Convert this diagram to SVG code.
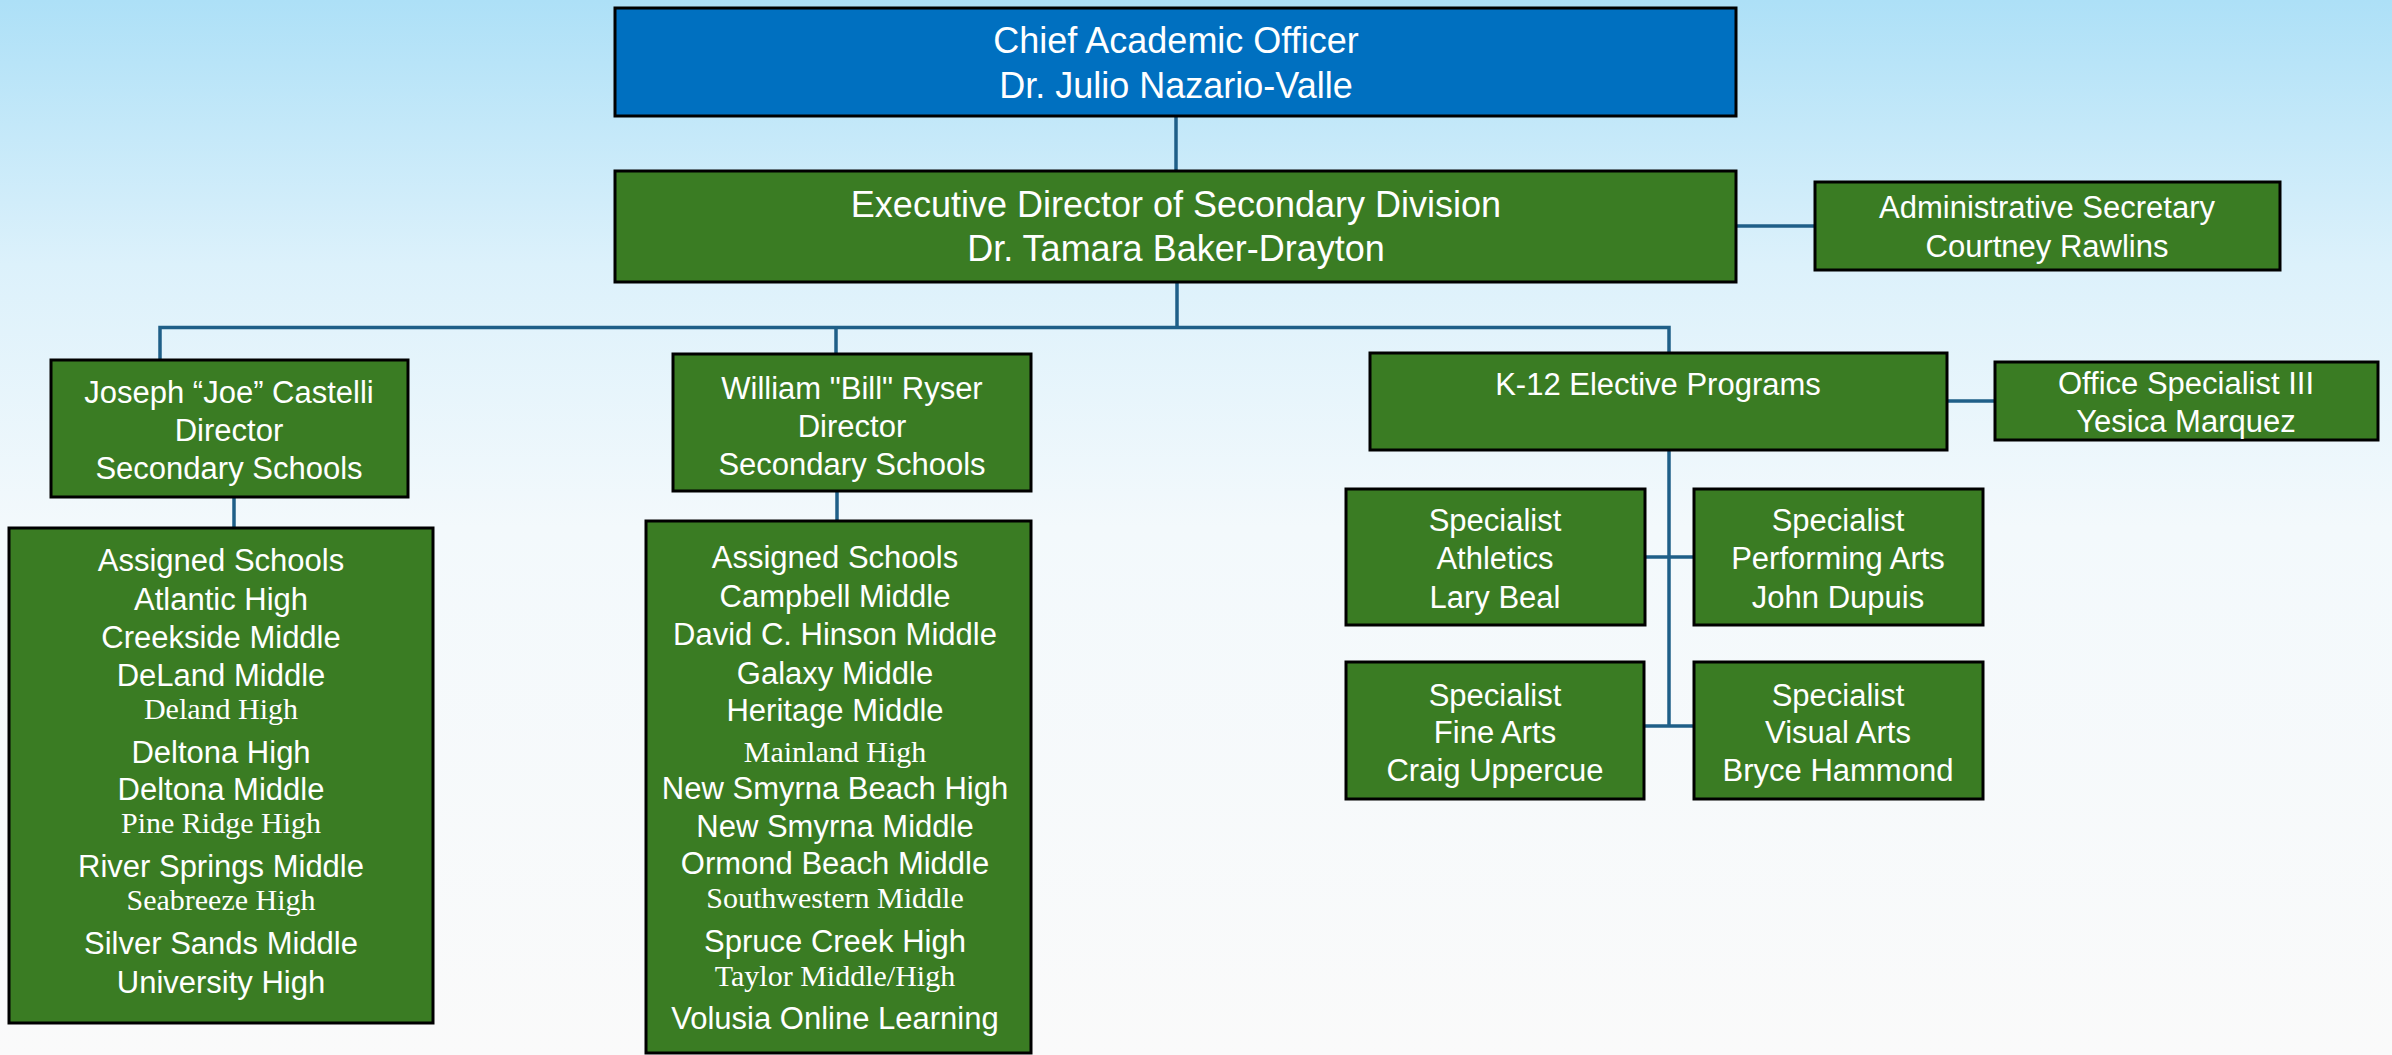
<svg xmlns="http://www.w3.org/2000/svg" width="2392" height="1055" viewBox="0 0 2392 1055">
<defs>
<linearGradient id="bg" x1="0" y1="0" x2="0" y2="1">
<stop offset="0" stop-color="#ade0f7"/>
<stop offset="0.25" stop-color="#dcf1fb"/>
<stop offset="0.5" stop-color="#f3f9fc"/>
<stop offset="1" stop-color="#fafafa"/>
</linearGradient>
<style>
.g{fill:#3a7c23;stroke:#000;stroke-width:3}
.b{fill:#0070c0;stroke:#000;stroke-width:3}
.t{font-family:"Liberation Sans",Arial,sans-serif;font-size:31px;fill:#fff;text-anchor:middle}
.s{font-family:"Liberation Serif","Times New Roman",serif;font-size:30px;fill:#fff;text-anchor:middle}
.L{font-size:36px}
.c{fill:none;stroke:#1f5f88;stroke-width:3.5}
</style>
</defs>
<rect x="0" y="0" width="2392" height="1055" fill="url(#bg)"/>
<g id="connectors">
<path class="c" d="M1176,116V171"/>
<path class="c" d="M1736,226H1815"/>
<path class="c" d="M1177,282V327.5"/>
<path class="c" d="M160,360V327.5H1669V353"/>
<path class="c" d="M836,327.5V354"/>
<path class="c" d="M234,497V528"/>
<path class="c" d="M837,491V521"/>
<path class="c" d="M1947,401H1995"/>
<path class="c" d="M1669,450V726"/>
<path class="c" d="M1645,557H1694"/>
<path class="c" d="M1644,726H1694"/>
</g>
<g id="cao">
<rect class="b" x="615" y="8" width="1121" height="108"/>
<text class="t L" x="1176" y="53">Chief Academic Officer</text>
<text class="t L" x="1176" y="98">Dr. Julio Nazario-Valle</text>
</g>
<g id="exec">
<rect class="g" x="615" y="171" width="1121" height="111"/>
<text class="t L" x="1176" y="217">Executive Director of Secondary Division</text>
<text class="t L" x="1176" y="261">Dr. Tamara Baker-Drayton</text>
</g>
<g id="admin">
<rect class="g" x="1815" y="182" width="465" height="88"/>
<text class="t" x="2047" y="218">Administrative Secretary</text>
<text class="t" x="2047" y="257">Courtney Rawlins</text>
</g>
<g id="castelli">
<rect class="g" x="51" y="360" width="357" height="137"/>
<text class="t" x="229" y="403">Joseph “Joe” Castelli</text>
<text class="t" x="229" y="441">Director</text>
<text class="t" x="229" y="479">Secondary Schools</text>
</g>
<g id="schools1">
<rect class="g" x="9" y="528" width="424" height="495"/>
<text class="t" x="221" y="571">Assigned Schools</text>
<text class="t" x="221" y="610">Atlantic High</text>
<text class="t" x="221" y="648">Creekside Middle</text>
<text class="t" x="221" y="686">DeLand Middle</text>
<text class="s" x="221" y="719">Deland High</text>
<text class="t" x="221" y="763">Deltona High</text>
<text class="t" x="221" y="800">Deltona Middle</text>
<text class="s" x="221" y="833">Pine Ridge High</text>
<text class="t" x="221" y="877">River Springs Middle</text>
<text class="s" x="221" y="910">Seabreeze High</text>
<text class="t" x="221" y="954">Silver Sands Middle</text>
<text class="t" x="221" y="993">University High</text>
</g>
<g id="ryser">
<rect class="g" x="673" y="354" width="358" height="137"/>
<text class="t" x="852" y="399">William "Bill" Ryser</text>
<text class="t" x="852" y="437">Director</text>
<text class="t" x="852" y="475">Secondary Schools</text>
</g>
<g id="schools2">
<rect class="g" x="646" y="521" width="385" height="532"/>
<text class="t" x="835" y="568">Assigned Schools</text>
<text class="t" x="835" y="607">Campbell Middle</text>
<text class="t" x="835" y="645">David C. Hinson Middle</text>
<text class="t" x="835" y="684">Galaxy Middle</text>
<text class="t" x="835" y="721">Heritage Middle</text>
<text class="s" x="835" y="762">Mainland High</text>
<text class="t" x="835" y="799">New Smyrna Beach High</text>
<text class="t" x="835" y="837">New Smyrna Middle</text>
<text class="t" x="835" y="874">Ormond Beach Middle</text>
<text class="s" x="835" y="908">Southwestern Middle</text>
<text class="t" x="835" y="952">Spruce Creek High</text>
<text class="s" x="835" y="986">Taylor Middle/High</text>
<text class="t" x="835" y="1029">Volusia Online Learning</text>
</g>
<g id="k12">
<rect class="g" x="1370" y="353" width="577" height="97"/>
<text class="t" x="1658" y="395">K-12 Elective Programs</text>
</g>
<g id="office">
<rect class="g" x="1995" y="362" width="383" height="78"/>
<text class="t" x="2186" y="394">Office Specialist III</text>
<text class="t" x="2186" y="432">Yesica Marquez</text>
</g>
<g id="athletics">
<rect class="g" x="1346" y="489" width="299" height="136"/>
<text class="t" x="1495" y="531">Specialist</text>
<text class="t" x="1495" y="569">Athletics</text>
<text class="t" x="1495" y="608">Lary Beal</text>
</g>
<g id="performing">
<rect class="g" x="1694" y="489" width="289" height="136"/>
<text class="t" x="1838" y="531">Specialist</text>
<text class="t" x="1838" y="569">Performing Arts</text>
<text class="t" x="1838" y="608">John Dupuis</text>
</g>
<g id="finearts">
<rect class="g" x="1346" y="662" width="298" height="137"/>
<text class="t" x="1495" y="706">Specialist</text>
<text class="t" x="1495" y="743">Fine Arts</text>
<text class="t" x="1495" y="781">Craig Uppercue</text>
</g>
<g id="visual">
<rect class="g" x="1694" y="662" width="289" height="137"/>
<text class="t" x="1838" y="706">Specialist</text>
<text class="t" x="1838" y="743">Visual Arts</text>
<text class="t" x="1838" y="781">Bryce Hammond</text>
</g>
</svg>
